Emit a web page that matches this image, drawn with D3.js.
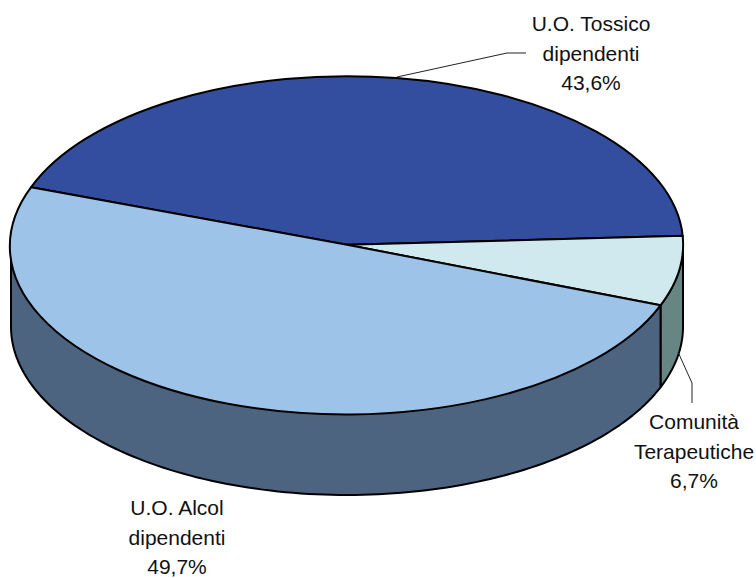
<!DOCTYPE html>
<html>
<head>
<meta charset="utf-8">
<script src="https://cdn.jsdelivr.net/npm/d3@7"></script>
<style>html,body{margin:0;padding:0;background:#fff}svg{display:block}</style>
</head>
<body>
<svg id="chart" width="756" height="578"></svg>
<script>
const categories = ["U.O. Tossico dipendenti", "Comunità Terapeutiche", "U.O. Alcol dipendenti"];
const values = [43.6, 6.7, 49.7];
const valueLabels = ["43,6%", "6,7%", "49,7%"];
const labelLines = [["U.O. Tossico", "dipendenti"], ["Comunità", "Terapeutiche"], ["U.O. Alcol", "dipendenti"]];
const topColors = ["#334e9f", "#d0e9ee", "#9dc3e8"];
const wallColors = ["#2a3f80", "#678683", "#4d6480"];

const svg = d3.select("#chart");
const sx = d3.scaleLinear().domain([-1, 1]).range([11, 683]);
const sy = d3.scaleLinear().domain([-1, 1]).range([76.5, 413]);
const depth = 82;
const startDeg = -70;

const pie = d3.pie().sort(null).value(d => d)
  .startAngle(startDeg * Math.PI / 180)
  .endAngle((startDeg + 360) * Math.PI / 180);
const arcs = pie(values);

const pt = (a, dz = 0) => [sx(Math.sin(a)), sy(-Math.cos(a)) + dz];

// Side walls: only the front half of the ellipse (pi/2 .. 3pi/2) is visible
const line = d3.line();
const wallG = svg.append("g");
arcs.forEach((d, i) => {
  const lo = Math.max(d.startAngle, Math.PI / 2), hi = Math.min(d.endAngle, 1.5 * Math.PI);
  if (hi <= lo) return;
  const steps = d3.range(0, 121).map(k => lo + (hi - lo) * k / 120);
  const pts = steps.map(a => pt(a)).concat(steps.slice().reverse().map(a => pt(a, depth)));
  wallG.append("path")
    .attr("d", line(pts) + "Z")
    .attr("fill", wallColors[i])
    .attr("stroke", "#000")
    .attr("stroke-width", 2)
    .attr("stroke-linejoin", "round");
});

// Top face
const arc = d3.arc().innerRadius(0).outerRadius(1);
svg.append("g")
  .attr("transform", `translate(${sx(0)},${sy(0)}) scale(${(sx(1) - sx(-1)) / 2},${(sy(1) - sy(-1)) / 2})`)
  .selectAll("path").data(arcs).join("path")
  .attr("d", arc)
  .attr("fill", (d, i) => topColors[i])
  .attr("stroke", "#000")
  .attr("stroke-width", 2)
  .attr("stroke-linejoin", "round")
  .attr("vector-effect", "non-scaling-stroke");

// Leader lines
const leaders = [
  [[397, 77], [507, 53], [526, 53]],
  [[678, 352], [692, 383], [692, 403]]
];
svg.append("g").selectAll("path").data(leaders).join("path")
  .attr("d", d => line(d))
  .attr("fill", "none")
  .attr("stroke", "#222")
  .attr("stroke-width", 1);

// Labels
const labelPos = [[591, 31], [694, 429], [177, 515]];
const labels = svg.append("g")
  .attr("font-family", "'Liberation Sans', Arial, sans-serif")
  .attr("font-size", 21)
  .attr("fill", "#111")
  .attr("text-anchor", "middle");
categories.forEach((c, i) => {
  const t = labels.append("text").attr("aria-label", c);
  [...labelLines[i], valueLabels[i]].forEach((s, k) => {
    t.append("tspan").attr("x", labelPos[i][0]).attr("y", labelPos[i][1] + k * 29.5).text(s);
  });
});
</script>
</body>
</html>
